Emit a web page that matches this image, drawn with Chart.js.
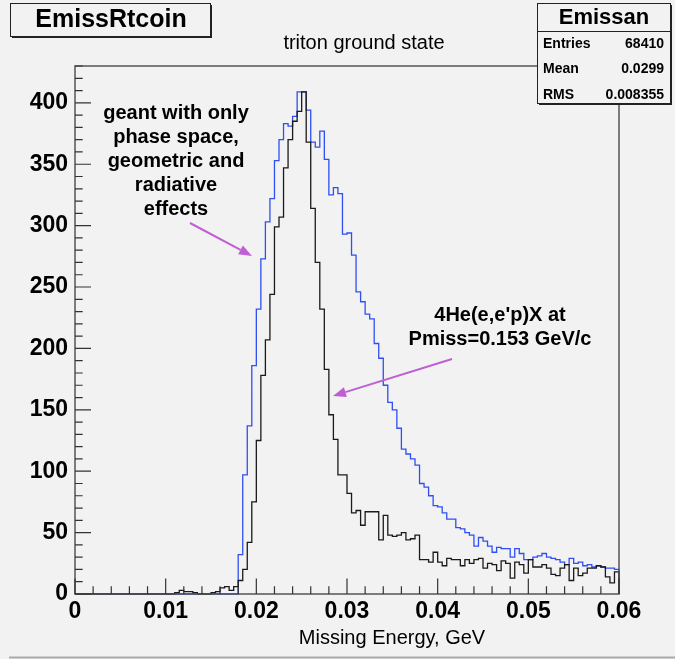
<!DOCTYPE html>
<html>
<head>
<meta charset="utf-8">
<title>EmissRtcoin</title>
<script src="https://cdn.jsdelivr.net/npm/chart.js@4.4.1/dist/chart.umd.min.js"></script>
<style>
  html, body { margin: 0; padding: 0; background: #f2f2f2; }
</style>
</head>
<body>
<canvas id="emissChart" width="675" height="659"></canvas>
<script>
// histogram binning: 120 bins of 0.5 MeV from 0 to 0.06 GeV
const binWidth = 0.0005;

// blue: geant simulation (phase space, geometric and radiative effects)
const simCounts = [
  0, 0, 0, 0, 0, 0, 0, 0, 0, 0,
  0, 0, 0, 0, 0, 0, 0, 0, 0, 0,
  0, 0, 0, 0, 0, 0, 0, 0, 0, 0,
  0, 0, 0, 0, 0, 0, 32, 97, 137, 186,
  232, 273, 303, 322, 353, 370, 383, 381, 389, 409,
  409, 394, 368, 364, 377, 354, 325, 331, 326, 293,
  294, 276, 246, 238, 228, 224, 204, 192, 170, 156,
  150, 135, 118, 114, 110, 105, 90, 87, 80, 72,
  71, 66, 61, 61, 54, 53, 50, 48, 39, 46,
  43, 39, 34, 38, 37, 37, 30, 37, 33, 28,
  28, 30, 31, 33, 30, 29, 28, 26, 24, 29,
  25, 26, 23, 24, 22, 23, 22, 21, 21, 20
];

// black: 4He(e,e'p)X data at Pmiss = 0.153 GeV/c
const dataCounts = [
  0, 0, 0, 0, 0, 0, 0, 0, 0, 0,
  0, 0, 0, 0, 0, 0, 0, 0, 0, 0,
  0, 0, 1, 3, 2, 2, 1, 0, 0, 0,
  1, 2, 5, 6, 3, 6, 11, 20, 42, 75,
  125, 178, 207, 244, 299, 307, 347, 370, 385, 393,
  409, 368, 314, 270, 232, 183, 146, 126, 97, 97,
  82, 66, 68, 56, 67, 67, 67, 44, 64, 48,
  47, 48, 50, 44, 45, 48, 28, 28, 26, 34,
  26, 23, 29, 28, 28, 23, 28, 25, 28, 29,
  21, 25, 24, 19, 27, 25, 13, 26, 24, 17,
  28, 22, 22, 24, 21, 16, 15, 21, 24, 11,
  21, 15, 17, 21, 21, 23, 22, 14, 9, 18
];

const xTickValues = [0, 0.01, 0.02, 0.03, 0.04, 0.05, 0.06];
const yTickValues = [0, 50, 100, 150, 200, 250, 300, 350, 400];

const statsName = 'Emissan';
const statsRows = [['Entries', '68410'], ['Mean', '0.0299'], ['RMS', '0.008355']];
const simNote = ['geant with only', 'phase space,', 'geometric and', 'radiative', 'effects'];
const dataNote = ["4He(e,e'p)X at", 'Pmiss=0.153 GeV/c'];

const FONT = '"Liberation Sans", Arial, Helvetica, sans-serif';

// turn bin contents into step points (left edge of each bin), closing at the upper edge
function toSteps(counts) {
  const pts = counts.map((c, i) => ({ x: i * binWidth, y: c }));
  pts.push({ x: counts.length * binWidth, y: 0 });
  return pts;
}

function drawArrow(ctx, x1, y1, x2, y2) {
  const ang = Math.atan2(y2 - y1, x2 - x1);
  const hl = 13, hw = 5;
  const bx = x2 - hl * Math.cos(ang), by = y2 - hl * Math.sin(ang);
  ctx.beginPath();
  ctx.moveTo(x1, y1);
  ctx.lineTo(bx, by);
  ctx.stroke();
  ctx.beginPath();
  ctx.moveTo(x2, y2);
  ctx.lineTo(bx + hw * Math.sin(ang), by - hw * Math.cos(ang));
  ctx.lineTo(bx - hw * Math.sin(ang), by + hw * Math.cos(ang));
  ctx.closePath();
  ctx.fill();
}

function shadowBox(ctx, x, y, w, h) {
  ctx.fillStyle = '#f2f2f2';
  ctx.fillRect(x, y, w, h);
  ctx.fillStyle = '#222';
  ctx.fillRect(x + 2, y + h, w, 2);
  ctx.fillRect(x + w, y + 2, 2, h);
  ctx.strokeStyle = '#222';
  ctx.lineWidth = 1;
  ctx.strokeRect(x + 0.5, y + 0.5, w, h);
}

// ROOT-like frame, inward ticks, boxes and annotations
const rootDecor = {
  id: 'rootDecor',
  beforeDraw(chart) {
    const ctx = chart.ctx;
    ctx.save();
    ctx.fillStyle = '#f2f2f2';
    ctx.fillRect(0, 0, chart.width, chart.height);
    ctx.restore();
  },
  afterDraw(chart) {
    const { ctx, chartArea: a } = chart;
    const xs = chart.scales.x, ys = chart.scales.y;
    ctx.save();

    // frame
    ctx.strokeStyle = '#555';
    ctx.lineWidth = 1.5;
    ctx.strokeRect(a.left, a.top, a.right - a.left, a.bottom - a.top);

    // ticks
    ctx.lineWidth = 1.2;
    ctx.strokeStyle = '#333';
    ctx.beginPath();
    for (let i = 0; i <= 30; i++) {
      const v = i * 0.002;
      const px = xs.getPixelForValue(v);
      const len = i % 5 === 0 ? 15.5 : 7.7;
      ctx.moveTo(px, a.bottom);
      ctx.lineTo(px, a.bottom - len);
    }
    for (let v = 0; v <= 430; v += 10) {
      const py = ys.getPixelForValue(v);
      const len = v % 50 === 0 ? 16 : 7.7;
      ctx.moveTo(a.left, py);
      ctx.lineTo(a.left + len, py);
    }
    ctx.stroke();

    // title box
    shadowBox(ctx, 10, 3, 200, 33);
    ctx.fillStyle = '#000';
    ctx.textAlign = 'center';
    ctx.textBaseline = 'middle';
    ctx.font = `bold 25px ${FONT}`;
    ctx.fillText('EmissRtcoin', 111, 20);

    // subtitle
    ctx.font = `20px ${FONT}`;
    ctx.fillText('triton ground state', 364, 43);

    // stats box
    shadowBox(ctx, 537, 3, 133, 100);
    ctx.strokeStyle = '#222';
    ctx.lineWidth = 1;
    ctx.beginPath();
    ctx.moveTo(537, 31.5);
    ctx.lineTo(670, 31.5);
    ctx.stroke();
    ctx.fillStyle = '#000';
    ctx.font = `bold 22px ${FONT}`;
    ctx.textAlign = 'center';
    ctx.fillText(statsName, 604, 18);
    ctx.font = `bold 14px ${FONT}`;
    statsRows.forEach((r, i) => {
      const ry = 44 + i * 25.5;
      ctx.textAlign = 'left';
      ctx.fillText(r[0], 543, ry);
      ctx.textAlign = 'right';
      ctx.fillText(r[1], 664, ry);
    });

    // axis title
    ctx.textAlign = 'center';
    ctx.font = `20px ${FONT}`;
    ctx.fillText('Missing Energy, GeV', 392, 638);

    // annotations
    ctx.font = `bold 20px ${FONT}`;
    simNote.forEach((t, i) => ctx.fillText(t, 176, 113 + i * 24));
    dataNote.forEach((t, i) => ctx.fillText(t, 500, 315 + i * 24));

    ctx.strokeStyle = '#bf5fd3';
    ctx.fillStyle = '#bf5fd3';
    ctx.lineWidth = 2;
    drawArrow(ctx, 190, 223, 252, 256);
    drawArrow(ctx, 452, 359, 333, 396);

    // canvas bottom edge
    ctx.strokeStyle = '#aaa';
    ctx.lineWidth = 2;
    ctx.beginPath();
    ctx.moveTo(9, 657.5);
    ctx.lineTo(675, 657.5);
    ctx.stroke();

    ctx.restore();
  }
};

const ctx = document.getElementById('emissChart').getContext('2d');
new Chart(ctx, {
  type: 'line',
  data: {
    datasets: [
      {
        label: 'data',
        data: toSteps(dataCounts),
        borderColor: '#1a1a1a',
        borderWidth: 1.3,
        stepped: 'before',
        pointRadius: 0,
        fill: false,
        clip: 3
      },
      {
        label: 'geant',
        data: toSteps(simCounts),
        borderColor: '#2f4ff2',
        borderWidth: 1.3,
        stepped: 'before',
        pointRadius: 0,
        fill: false,
        clip: 3
      }
    ]
  },
  options: {
    responsive: false,
    animation: false,
    layout: { padding: { left: 0, right: 56, top: 66, bottom: 0 } },
    plugins: {
      legend: { display: false },
      tooltip: { enabled: false },
      title: { display: false }
    },
    scales: {
      x: {
        type: 'linear',
        min: 0,
        max: 0.06,
        grid: { display: false, drawTicks: false },
        border: { display: false },
        afterBuildTicks: (s) => { s.ticks = xTickValues.map(v => ({ value: v })); },
        afterFit: (s) => { s.height = 65; },
        ticks: {
          padding: 4,
          maxRotation: 0,
          color: '#000',
          font: { family: FONT, weight: 'bold', size: 23 },
          callback: (v) => (v === 0 ? '0' : v.toFixed(2))
        }
      },
      y: {
        min: 0,
        max: 430,
        grid: { display: false, drawTicks: false },
        border: { display: false },
        afterBuildTicks: (s) => { s.ticks = yTickValues.map(v => ({ value: v })); },
        afterFit: (s) => { s.width = 75; },
        ticks: {
          padding: 7,
          color: '#000',
          font: { family: FONT, weight: 'bold', size: 23 }
        }
      }
    }
  },
  plugins: [rootDecor]
});
</script>
</body>
</html>
